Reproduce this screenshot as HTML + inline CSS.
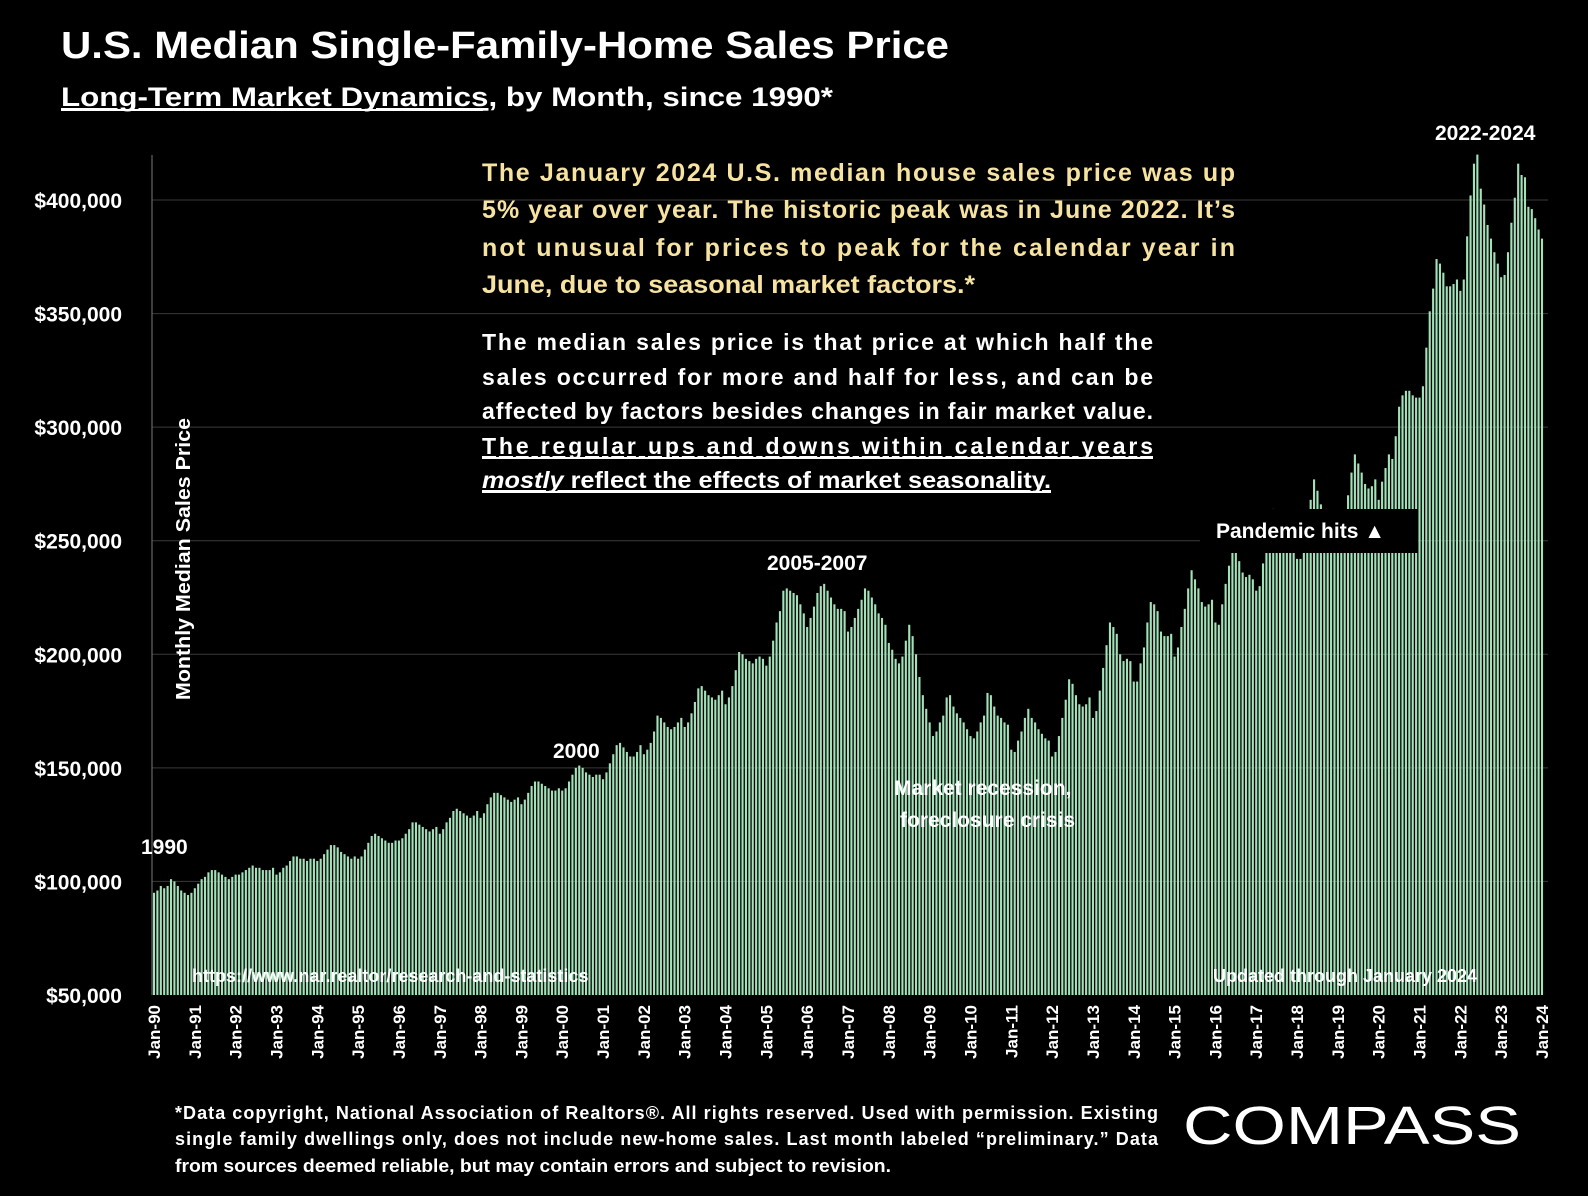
<!DOCTYPE html>
<html><head><meta charset="utf-8"><style>
html,body{margin:0;padding:0;background:#000;}
svg{display:block;font-family:"Liberation Sans",sans-serif;font-weight:bold;}
</style></head><body>
<svg id="chart" width="1588" height="1196" viewBox="0 0 1588 1196" xmlns="http://www.w3.org/2000/svg">
<rect width="1588" height="1196" fill="#000"/>
<text x="61" y="58" fill="#fff" font-size="38" textLength="888" lengthAdjust="spacingAndGlyphs">U.S. Median Single-Family-Home Sales Price</text>
<text x="61" y="106" fill="#fff" font-size="27" textLength="772" lengthAdjust="spacingAndGlyphs"><tspan text-decoration="underline">Long-Term Market Dynamics</tspan>, by Month, since 1990*</text>
<line x1="61" y1="110" x2="483" y2="110" stroke="#fff" stroke-width="2"/>
<g id="grid"></g>
<g id="bars"></g>
<line x1="152" y1="155" x2="152" y2="995" stroke="#777" stroke-width="1"/>
<g id="yticks"></g>
<g id="xticks"></g>
<text transform="translate(190,700) rotate(-90)" fill="#fff" font-size="20" textLength="282" lengthAdjust="spacingAndGlyphs">Monthly Median Sales Price</text>

<g fill="#f7e3a1" font-size="25">
<text x="482" y="181" textLength="753" lengthAdjust="spacing">The January 2024 U.S. median house sales price was up</text>
<text x="482" y="218" textLength="753" lengthAdjust="spacing">5% year over year. The historic peak was in June 2022. It’s</text>
<text x="482" y="256" textLength="753" lengthAdjust="spacing">not unusual for prices to peak for the calendar year in</text>
<text x="482" y="293" textLength="493" lengthAdjust="spacingAndGlyphs">June, due to seasonal market factors.*</text>
</g>
<g fill="#fff" font-size="23">
<text x="482" y="350" textLength="671" lengthAdjust="spacing">The median sales price is that price at which half the</text>
<text x="482" y="385" textLength="671" lengthAdjust="spacing">sales occurred for more and half for less, and can be</text>
<text x="482" y="419" textLength="671" lengthAdjust="spacing">affected by factors besides changes in fair market value.</text>
<text x="482" y="454" textLength="671" lengthAdjust="spacing" text-decoration="underline">The regular ups and downs within calendar years</text>
<text x="482" y="488" textLength="569" lengthAdjust="spacingAndGlyphs" text-decoration="underline"><tspan font-style="italic">mostly</tspan> reflect the effects of market seasonality.</text>
<line x1="482" y1="458" x2="1153" y2="458" stroke="#fff" stroke-width="2"/>
<line x1="482" y1="492" x2="1051" y2="492" stroke="#fff" stroke-width="2"/>
</g>
<rect x="1200" y="509" width="218" height="44" fill="#000"/>
<text x="1216" y="538" fill="#fff" font-size="21">Pandemic hits ▲</text>
<g fill="#fff" font-size="21">
<text x="1435" y="140">2022-2024</text>
<text x="767" y="570">2005-2007</text>
<text x="553" y="758">2000</text>
<text x="141" y="854">1990</text>
<text x="894" y="795">Market recession,</text>
<text x="900" y="827">foreclosure crisis</text>
</g>
<text x="192" y="982" fill="#fff" font-size="18">https://www.nar.realtor/research-and-statistics</text>
<text x="1213" y="982" fill="#fff" font-size="18">Updated through January 2024</text>
<g fill="#fff" font-size="18">
<text x="175" y="1119" textLength="983" lengthAdjust="spacing">*Data copyright, National Association of Realtors®. All rights reserved. Used with permission. Existing</text>
<text x="175" y="1145" textLength="983" lengthAdjust="spacing">single family dwellings only, does  not include new-home sales. Last month labeled “preliminary.” Data</text>
<text x="175" y="1172" textLength="716" lengthAdjust="spacingAndGlyphs">from sources deemed reliable, but may contain errors and subject to revision.</text>
</g>
<text x="1183" y="1144" fill="#fff" font-size="54" font-weight="normal" textLength="338" lengthAdjust="spacingAndGlyphs">COMPASS</text>
</svg>
<script>
const yearLabels=["90","91","92","93","94","95","96","97","98","99","00","01","02","03","04","05","06","07","08","09","10","11","12","13","14","15","16","17","18","19","20","21","22","23","24"];
const yTicks=[50000,100000,150000,200000,250000,300000,350000,400000];
const prices=[
95,96,98,97,98,101,100,98,96,95,94,95,
97,99,101,102,104,105,105,104,103,102,101,102,
103,103,104,105,106,107,106,106,105,105,105,106,
103,104,106,107,109,111,111,110,110,109,110,110,
109,110,112,114,116,116,115,113,112,111,110,111,
110,111,114,117,120,121,120,119,118,117,117,118,
118,119,121,123,126,126,125,124,123,122,123,124,
121,123,126,128,131,132,131,130,129,128,129,131,
128,130,134,137,139,139,138,137,136,135,136,137,
134,136,139,142,144,144,143,142,141,140,140,141,
140,141,144,147,150,151,150,148,147,146,147,147,
145,148,152,156,160,161,159,157,155,155,157,160,
156,158,161,166,173,172,170,168,167,168,170,172,
168,170,174,179,185,186,184,182,181,180,182,184,
178,181,186,193,201,200,198,197,196,198,199,198,
195,199,206,214,219,228,229,228,227,226,222,218,
212,216,221,227,230,231,228,225,222,220,220,219,
210,212,216,220,224,229,228,225,222,218,216,213,
205,202,198,196,199,206,213,208,200,190,182,176,
170,164,166,170,173,181,182,177,174,172,170,167,
164,163,166,170,173,183,182,177,173,172,170,169,
158,157,162,166,172,176,172,170,167,165,163,162,
155,157,164,172,180,189,187,182,178,177,178,181,
172,175,184,194,204,214,212,209,200,197,198,197,
188,188,196,203,214,223,222,219,210,208,208,209,
199,203,212,220,229,237,233,229,223,221,222,224,
214,213,222,231,239,247,245,241,236,234,235,233,
228,230,240,248,254,264,261,257,252,248,249,248,
242,242,252,263,268,277,272,266,259,256,257,256,
247,253,260,270,280,288,284,280,275,273,274,277,
268,276,282,288,286,296,309,314,316,316,314,313,
313,318,335,351,361,374,372,368,362,362,363,365,
360,365,384,402,416,420,405,398,389,383,377,372,
366,367,377,390,401,416,411,410,397,396,392,387,
383];
const NS="http://www.w3.org/2000/svg";
const Y0=995, Y1=200, V0=50000, V1=400000;
function yScale(v){return Y0-(v-V0)*(Y0-Y1)/(V1-V0);}
const X0=154, X1=1542;
function xScale(i){return X0+i*(X1-X0)/(prices.length-1);}
const grid=document.getElementById('grid'), bars=document.getElementById('bars');
const yt=document.getElementById('yticks'), xt=document.getElementById('xticks');
yTicks.forEach(v=>{
  const y=yScale(v);
  if(v>V0){const l=document.createElementNS(NS,'line');
  l.setAttribute('x1',152);l.setAttribute('x2',1548);l.setAttribute('y1',y);l.setAttribute('y2',y);
  l.setAttribute('stroke','#3a3a3a');l.setAttribute('stroke-width','1');
  
  
  grid.appendChild(l);}
  const t=document.createElementNS(NS,'text');
  t.setAttribute('x',122);t.setAttribute('y',y+8);t.setAttribute('text-anchor','end');
  t.setAttribute('fill','#fff');t.setAttribute('font-size','21');
  t.textContent='$'+v.toLocaleString('en-US');
  
  
  yt.appendChild(t);
});
const bw=(X1-X0)/(prices.length-1)*0.62;
prices.forEach((p,i)=>{
  const r=document.createElementNS(NS,'rect');
  const y=yScale(p*1000);
  r.setAttribute('x',xScale(i)-bw/2);r.setAttribute('y',y);
  r.setAttribute('width',bw);r.setAttribute('height',Y0-y);
  r.setAttribute('fill','#a3e2b9');
  
  
  bars.appendChild(r);
});
yearLabels.forEach((yl,k)=>{
  const x=xScale(k*12);
  const t=document.createElementNS(NS,'text');
  t.setAttribute('transform','translate('+(x+6)+',1005) rotate(-90)');
  t.setAttribute('text-anchor','end');t.setAttribute('fill','#fff');t.setAttribute('font-size','17');
  t.textContent='Jan-'+yl;
  
  
  xt.appendChild(t);
});
</script>
</body></html>
